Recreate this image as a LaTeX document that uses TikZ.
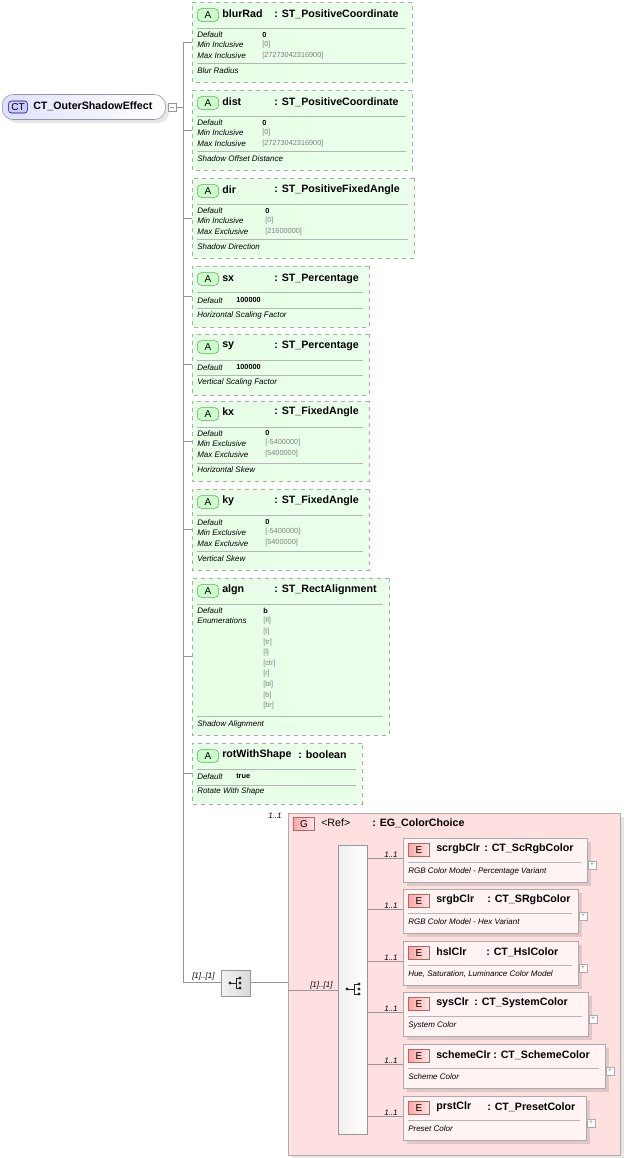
\documentclass[tikz,border=0pt]{standalone}
\usepackage{fontspec}
\setmainfont{Liberation Sans}
\usetikzlibrary{shapes.misc,shadows}
\definecolor{lnc}{RGB}{150,150,150}
\definecolor{grf}{RGB}{225,250,222}
\definecolor{pkf}{RGB}{255,224,224}
\tikzset{
 attr/.style={chamfered rectangle,chamfered rectangle xsep=4pt,chamfered rectangle ysep=4pt,draw=lnc!80,dashed,left color=grf!70!green!25,right color=white!92!green,inner sep=0pt,anchor=north west},
 badgeA/.style={draw=green!40!black!60,fill=green!20,rounded corners=3pt,minimum width=16pt,minimum height=9.5pt,inner sep=0pt,font=\fontsize{7.5}{8}\selectfont},
 badgeE/.style={draw=red!50!black!60,left color=red!35,right color=red!10,minimum width=16pt,minimum height=10pt,inner sep=0pt,font=\fontsize{7.5}{8}\selectfont},
 ttl/.style={anchor=west,inner sep=0pt,font=\fontsize{8}{9}\selectfont\bfseries},
 lab/.style={anchor=west,inner sep=0pt,font=\fontsize{6}{7}\selectfont\itshape},
 val/.style={anchor=west,inner sep=0pt,font=\fontsize{5.5}{6}\selectfont\bfseries},
 gval/.style={anchor=west,inner sep=0pt,font=\fontsize{5.5}{6}\selectfont,text=gray},
 con/.style={draw=lnc,line width=0.5pt},
 elem/.style={draw=lnc!80,fill=white!60!pkf,inner sep=0pt,anchor=north west,drop shadow={opacity=0.25}},
 plus/.style={draw=lnc!80,fill=white,minimum size=6pt,inner sep=0pt,font=\fontsize{5}{5}\selectfont,text=gray},
}
\newcommand\abox[6]{% name x0 y0 x1 y1 sep
 \node[attr,minimum width={(#4-#2)*0.75pt},minimum height={(#5-#3)*0.75pt}] (#1) at (#2,#3) {};
 \node[badgeA] (#1b) at (208,#3+13) {A};
 \draw[lnc!70] (197,#3+26) -- (#4-6,#3+26);
 \draw[lnc!70] (197,#6) -- (#4-6,#6);
 \draw[con] (183,{(#3+#5)/2}) -- (192,{(#3+#5)/2});
}
\newcommand\ebox[7]{% name y0 x1 title type desc typex
 \node[elem,minimum width={(#3-403)*0.75pt},minimum height={44*0.75pt}] (#1) at (403,#2) {};
 \node[badgeE] (#1b) at (419,#2+12) {E};
 \node[ttl] (#1t) at (436,#2+11) {#4};
 \node[ttl] (#1y) at (#7,#2+11) {#5};
 \draw[lnc!70] (408,#2+24) -- (#3-6,#2+24);
 \node[lab] (#1d) at (408,#2+33) {#6};
 \node[plus] (#1p) at (#3+5,#2+27) {+};
 \draw[con] (367,#2+20) -- (403,#2+20);
 \node[lab] (#1m) at (384,#2+17) {1..1};
}
\begin{document}
\begin{tikzpicture}[x=0.75pt,y=-0.75pt]
\useasboundingbox (0,0) rectangle (625,1158);
% root
\node[draw=lnc,rounded corners=8pt,left color=blue!12,right color=white,minimum width={163*0.75pt},minimum height={25*0.75pt},anchor=west,inner sep=0pt,drop shadow={opacity=0.2}] (root) at (2,107) {};
\node[draw=blue!50!black,fill=blue!20,rounded corners=2pt,minimum width=14pt,minimum height=9pt,inner sep=0pt,font=\fontsize{7.5}{8}\selectfont] (ctb) at (18,107) {CT};
\node[ttl] (roott) at (33,106) {CT\_OuterShadowEffect};
\node[draw=lnc,minimum size=6pt,inner sep=0pt] (minus) at (172,107) {};
\draw[lnc] (170,107)--(174,107);
\draw[con] (minus.east) -- (183,107);
\draw[con] (183,42) -- (183,982);
% blurRad
\abox{blur}{192}{2}{412}{82}{63}
\node[ttl] at (222,14) {blurRad}; \node[ttl] at (274,14) {: ST\_PositiveCoordinate};
\node[lab] at (197,35) {Default}; \node[val] at (262,35) {0};
\node[lab] at (197,45) {Min Inclusive}; \node[gval] at (262,45) {[0]};
\node[lab] at (197,56) {Max Inclusive}; \node[gval] at (262,56) {[27273042316900]};
\node[lab] at (197,71) {Blur Radius};
% dist
\abox{dist}{192}{90}{412}{170}{151}
\node[ttl] at (222,102) {dist}; \node[ttl] at (274,102) {: ST\_PositiveCoordinate};
\node[lab] at (197,123) {Default}; \node[val] at (262,123) {0};
\node[lab] at (197,133) {Min Inclusive}; \node[gval] at (262,133) {[0]};
\node[lab] at (197,144) {Max Inclusive}; \node[gval] at (262,144) {[27273042316900]};
\node[lab] at (197,159) {Shadow Offset Distance};
% dir
\abox{dir}{192}{178}{414}{258}{239}
\node[ttl] at (222,190) {dir}; \node[ttl] at (274,190) {: ST\_PositiveFixedAngle};
\node[lab] at (197,211) {Default}; \node[val] at (265,211) {0};
\node[lab] at (197,221) {Min Inclusive}; \node[gval] at (265,221) {[0]};
\node[lab] at (197,232) {Max Exclusive}; \node[gval] at (265,232) {[21600000]};
\node[lab] at (197,247) {Shadow Direction};
% sx
\abox{sx}{192}{266}{369}{327}{308}
\node[ttl] at (222,279) {sx}; \node[ttl] at (274,279) {: ST\_Percentage};
\node[lab] at (197,301) {Default}; \node[val] at (236,300) {100000};
\node[lab] at (197,315) {Horizontal Scaling Factor};
% sy
\abox{sy}{192}{334}{369}{395}{375}
\node[ttl] at (222,346) {sy}; \node[ttl] at (274,346) {: ST\_Percentage};
\node[lab] at (197,368) {Default}; \node[val] at (236,367) {100000};
\node[lab] at (197,382) {Vertical Scaling Factor};
% kx
\abox{kx}{192}{401}{369}{481}{463}
\node[ttl] at (222,412) {kx}; \node[ttl] at (274,412) {: ST\_FixedAngle};
\node[lab] at (197,434) {Default}; \node[val] at (265,433) {0};
\node[lab] at (197,444) {Min Exclusive}; \node[gval] at (265,443) {[-5400000]};
\node[lab] at (197,455) {Max Exclusive}; \node[gval] at (265,454) {[5400000]};
\node[lab] at (197,470) {Horizontal Skew};
% ky
\abox{ky}{192}{489}{369}{570}{551}
\node[ttl] at (222,501) {ky}; \node[ttl] at (274,501) {: ST\_FixedAngle};
\node[lab] at (197,523) {Default}; \node[val] at (265,522) {0};
\node[lab] at (197,533) {Min Exclusive}; \node[gval] at (265,532) {[-5400000]};
\node[lab] at (197,544) {Max Exclusive}; \node[gval] at (265,543) {[5400000]};
\node[lab] at (197,559) {Vertical Skew};
% algn
\abox{algn}{192}{578}{389}{735}{716}
\node[ttl] at (222,590) {algn}; \node[ttl] at (274,590) {: ST\_RectAlignment};
\node[lab] at (197,611) {Default}; \node[val] at (263,611) {b};
\node[lab] at (197,621) {Enumerations};
\foreach \v [count=\i from 0] in {[tl],[t],[tr],[l],[ctr],[r],[bl],[b],[br]}
  \node[gval] at (263,621+10.6*\i) {\v};
\node[lab] at (197,724) {Shadow Alignment};
% rotWithShape
\abox{rot}{192}{743}{362}{804}{785}
\node[ttl] at (222,755) {rotWithShape}; \node[ttl] at (298,755) {: boolean};
\node[lab] at (197,777) {Default}; \node[val] at (236,776) {true};
\node[lab] at (197,791) {Rotate With Shape};
% sequence
\draw[con] (183,982) -- (221,982);
\node[lab] (m1) at (192,976) {[1]..[1]};
\node[draw=lnc,left color=gray!10,right color=gray!30,minimum width={29*0.75pt},minimum height={26*0.75pt},inner sep=0pt,anchor=north west] (seq) at (221,970) {};
\foreach \yy in {-5,0,5} \fill[gray!30!black] (240,983+\yy) circle (1.6);
\draw[gray!30!black] (230,983)--(236,983) (236,978)--(236,988) (236,978)--(240,978) (236,988)--(240,988);
\fill[gray!30!black] (230,983) circle (1.6);
% group
\node[draw=lnc!80,fill=pkf,minimum width={332*0.75pt},minimum height={342*0.75pt},inner sep=0pt,anchor=north west,drop shadow={opacity=0.2}] (grp) at (288,813) {};
\node[lab] (m2) at (268,816) {1..1};
\node[badgeE] (gb) at (304,824) {G};
\node[anchor=west,inner sep=0pt,font=\fontsize{8}{9}\selectfont] (gr) at (321,823) {<Ref>};
\node[ttl] (gt) at (372,823) {: EG\_ColorChoice};
\node[draw=lnc,left color=gray!12,right color=white,minimum width={29*0.75pt},minimum height={289*0.75pt},inner sep=0pt,anchor=north west] (bar) at (338,845) {};
\foreach \yy in {-5,0,5} \fill[gray!30!black] (359,989+\yy) circle (1.6);
\draw[gray!30!black] (347,989)--(354,989) (354,984)--(354,994) (354,984)--(359,984) (354,994)--(359,994);
\fill[gray!30!black] (347,989) circle (1.6);
\draw[con] (250,982) -- (288,982);
\draw[con] (288,990) -- (338,990);
\node[lab] (m3) at (310,985) {[1]..[1]};
\ebox{e1}{838}{587}{scrgbClr}{: CT\_ScRgbColor}{RGB Color Model - Percentage Variant}{484}
\ebox{e2}{889}{578}{srgbClr}{: CT\_SRgbColor}{RGB Color Model - Hex Variant}{487}
\ebox{e3}{941}{578}{hslClr}{: CT\_HslColor}{Hue, Saturation, Luminance Color Model}{486}
\ebox{e4}{992}{588}{sysClr}{: CT\_SystemColor}{System Color}{474}
\ebox{e5}{1044}{605}{schemeClr}{: CT\_SchemeColor}{Scheme Color}{493}
\ebox{e6}{1096}{586}{prstClr}{: CT\_PresetColor}{Preset Color}{487}
\end{tikzpicture}
\end{document}
